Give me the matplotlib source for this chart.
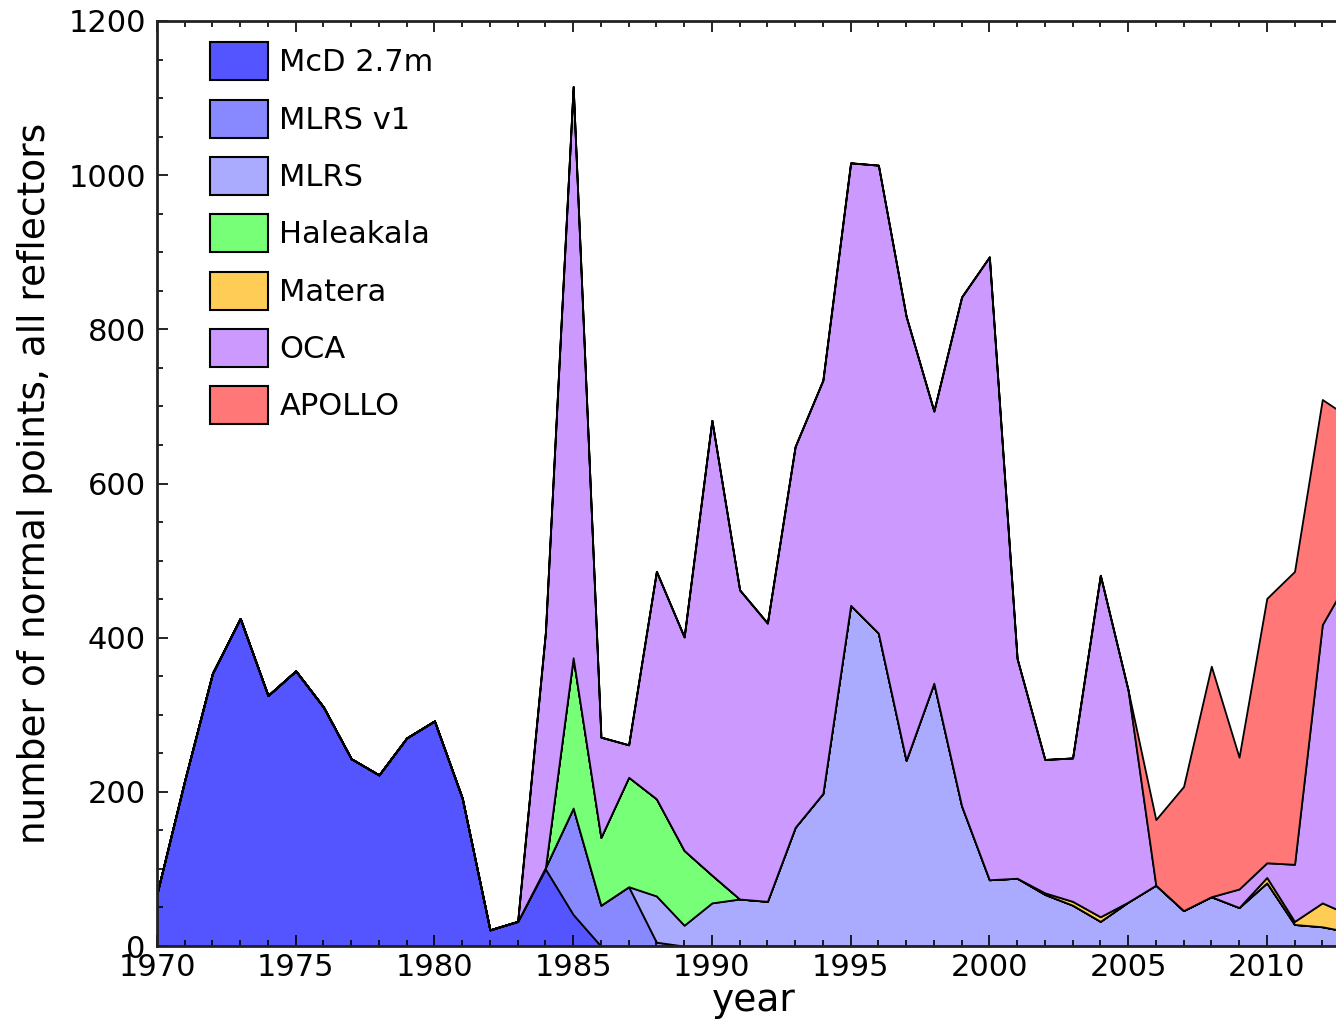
"""LLR normal points per year, stacked by station"""

import matplotlib
matplotlib.use("Agg")
import matplotlib.pyplot as plt
from matplotlib.ticker import MultipleLocator

years = list(range(1970, 2014))

# normal points per station per year
mcd_27m = [68, 215, 354, 425, 325, 357, 310, 243, 222, 270, 292, 192, 21, 32,
           100, 41, 0, 0, 0, 0, 0, 0, 0, 0, 0, 0, 0, 0, 0, 0,
           0, 0, 0, 0, 0, 0, 0, 0, 0, 0, 0, 0, 0, 0]
mlrs_v1 = [0, 0, 0, 0, 0, 0, 0, 0, 0, 0, 0, 0, 0, 0,
           2, 138, 53, 77, 5, 0, 0, 0, 0, 0, 0, 0, 0, 0, 0, 0,
           0, 0, 0, 0, 0, 0, 0, 0, 0, 0, 0, 0, 0, 0]
mlrs = [0, 0, 0, 0, 0, 0, 0, 0, 0, 0, 0, 0, 0, 0,
        0, 0, 0, 0, 60, 27, 56, 61, 58, 154, 198, 442, 406, 241, 341, 182,
        86, 88, 67, 53, 32, 57, 79, 46, 64, 50, 82, 28, 25, 18]
haleakala = [0, 0, 0, 0, 0, 0, 0, 0, 0, 0, 0, 0, 0, 0,
             0, 195, 88, 142, 126, 97, 36, 0, 0, 0, 0, 0, 0, 0, 0, 0,
             0, 0, 0, 0, 0, 0, 0, 0, 0, 0, 0, 0, 0, 0]
matera = [0, 0, 0, 0, 0, 0, 0, 0, 0, 0, 0, 0, 0, 0,
          0, 0, 0, 0, 0, 0, 0, 0, 0, 0, 0, 0, 0, 0, 0, 0,
          0, 0, 2, 5, 6, 0, 0, 0, 0, 0, 7, 4, 31, 22]
oca = [0, 0, 0, 0, 0, 0, 0, 0, 0, 0, 0, 0, 0, 0,
       305, 741, 130, 42, 295, 277, 590, 401, 361, 494, 536, 574, 607, 576, 353, 660,
       808, 285, 173, 186, 443, 275, 0, 0, 0, 24, 19, 74, 361, 440]
apollo = [0, 0, 0, 0, 0, 0, 0, 0, 0, 0, 0, 0, 0, 0,
          0, 0, 0, 0, 0, 0, 0, 0, 0, 0, 0, 0, 0, 0, 0, 0,
          0, 0, 0, 0, 0, 0, 85, 161, 299, 171, 343, 380, 292, 205]

labels = ["McD 2.7m", "MLRS v1", "MLRS", "Haleakala", "Matera", "OCA", "APOLLO"]
colors = ["#5555ff", "#8888ff", "#aaaaff", "#77ff77", "#ffcc55", "#cc99ff", "#ff7777"]

plt.rcParams["font.family"] = "DejaVu Sans"

fig = plt.figure(figsize=(13.36, 10.19), dpi=100)
# axes run past the right edge like the cropped original
ax = fig.add_axes([0.1175, 0.0716, 0.893, 0.9078])

ax.stackplot(years, mcd_27m, mlrs_v1, mlrs, haleakala, matera, oca, apollo,
             labels=labels, colors=colors, edgecolor="black", linewidth=1.3)

ax.set_xlim(1970, 2013)
ax.set_ylim(0, 1200)
ax.xaxis.set_major_locator(MultipleLocator(5))
ax.xaxis.set_minor_locator(MultipleLocator(1))
ax.yaxis.set_major_locator(MultipleLocator(200))
ax.yaxis.set_minor_locator(MultipleLocator(50))
ax.tick_params(which="both", direction="in", top=True, right=True, width=1.2)
ax.tick_params(which="major", length=8, labelsize=22)
ax.tick_params(which="minor", length=4)
ax.tick_params(axis="y", pad=8)
ax.tick_params(axis="x", pad=5)
for sp in ax.spines.values():
    sp.set_linewidth(2)
    sp.set_color("#222222")

ax.set_xlabel("year", fontsize=27, labelpad=1)
ax.set_ylabel("number of normal points, all reflectors", fontsize=27, labelpad=11)

leg = ax.legend(loc="upper left", bbox_to_anchor=(0.0444, 0.977), frameon=False,
                fontsize=22, borderpad=0, borderaxespad=0, handlelength=1.9,
                handleheight=1.54, labelspacing=0.63, handletextpad=0.37)
for h in leg.legend_handles:
    h.set_edgecolor("black")
    h.set_linewidth(1.5)

fig.savefig("out.png", dpi=100, facecolor="white")
